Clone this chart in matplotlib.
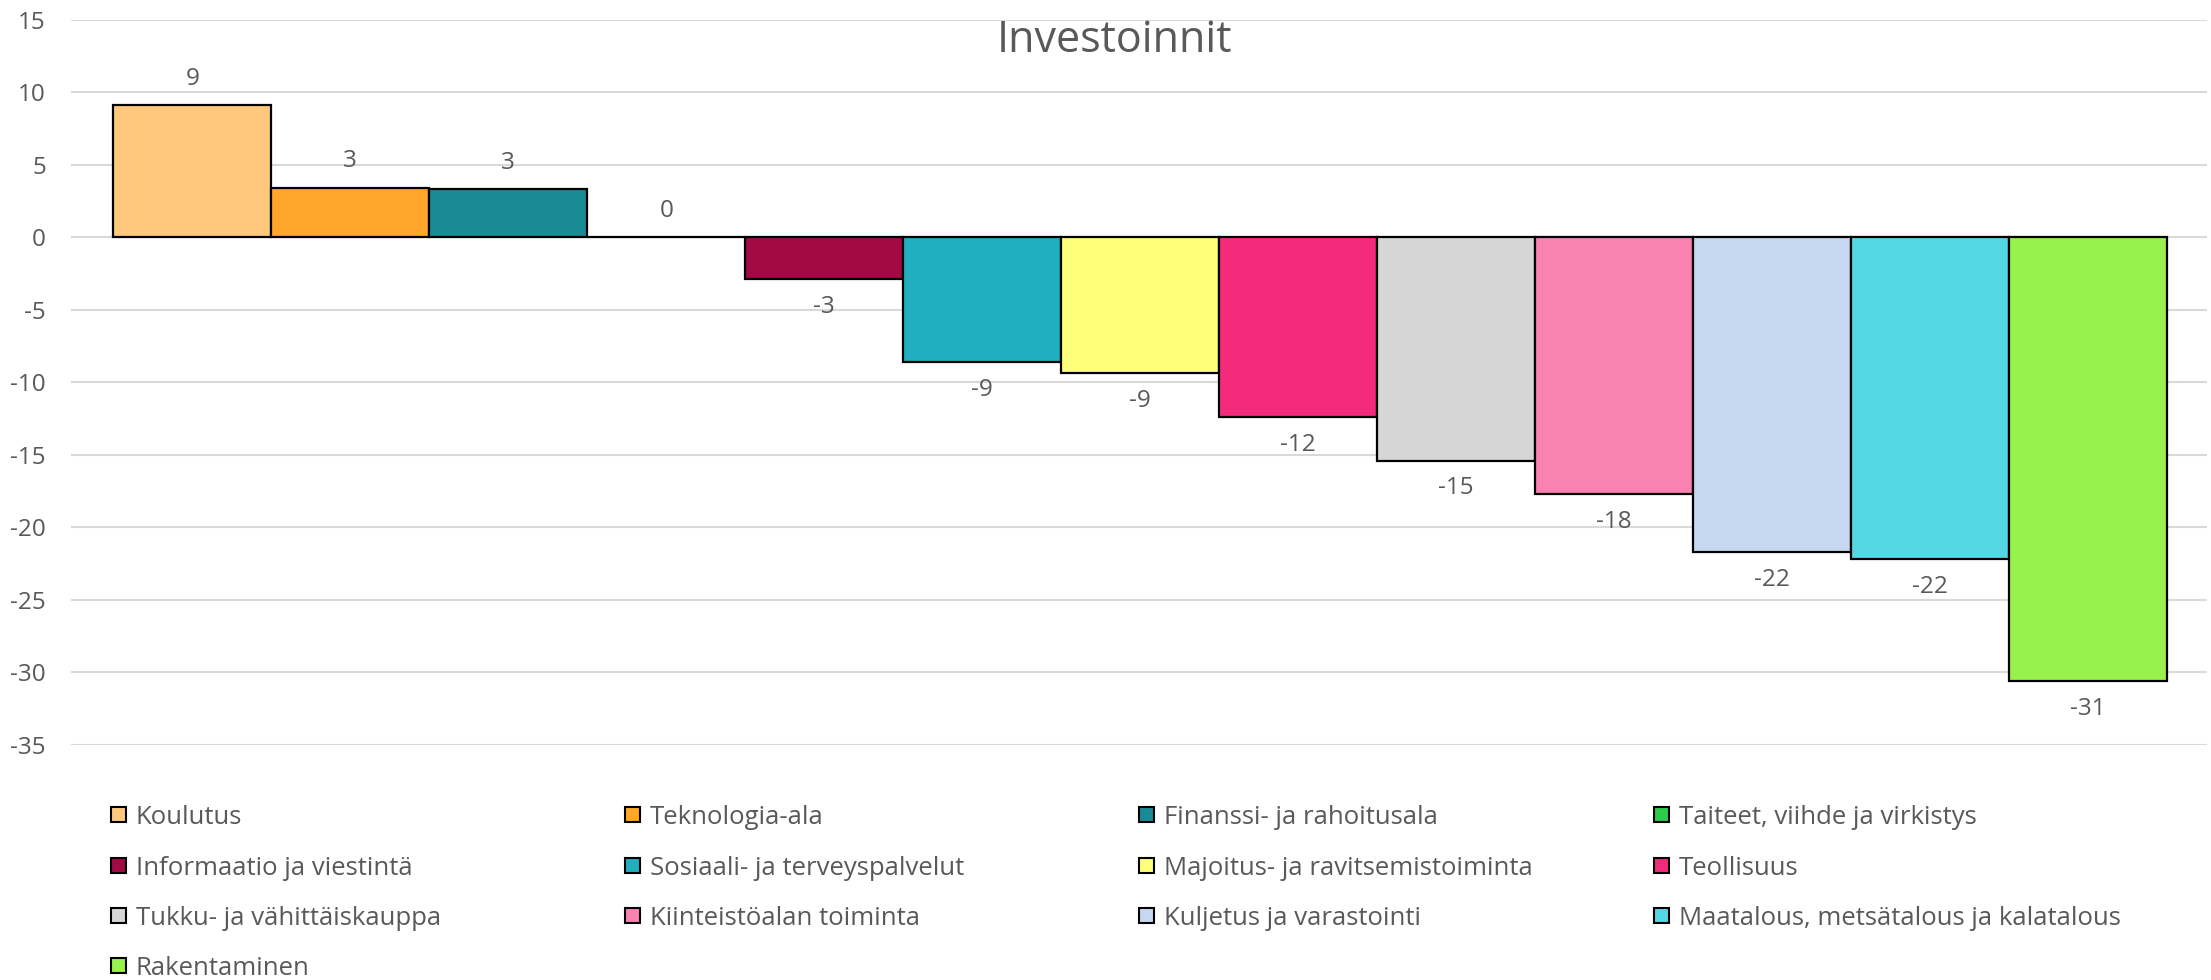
import matplotlib
matplotlib.use('Agg')
from matplotlib import pyplot as plt
from matplotlib.patches import Rectangle

plt.rcParams['font.family'] = ['Open Sans', 'DejaVu Sans']

# data
categories = ['Koulutus', 'Teknologia-ala', 'Finanssi- ja rahoitusala',
              'Taiteet, viihde ja virkistys', 'Informaatio ja viestintä',
              'Sosiaali- ja terveyspalvelut', 'Majoitus- ja ravitsemistoiminta',
              'Teollisuus', 'Tukku- ja vähittäiskauppa', 'Kiinteistöalan toiminta',
              'Kuljetus ja varastointi', 'Maatalous, metsätalous ja kalatalous',
              'Rakentaminen']
values = [9.1, 3.4, 3.3, 0.0, -2.9, -8.6, -9.4, -12.4, -15.4, -17.7, -21.7, -22.2, -30.6]
colors = ['#FFC87C', '#FFA62B', '#1A8A96', '#2DCB4C', '#A10A45', '#20AFBF',
          '#FFFF7A', '#F42B7A', '#D6D6D6', '#F982B3', '#C6D8F0', '#55D6E3',
          '#97F24D']
y_ticks = [15, 10, 5, 0, -5, -10, -15, -20, -25, -30, -35]

text_color = '#595959'
W, H = 2211, 980

fig = plt.figure(figsize=(W / 100, H / 100), dpi=100)
ax = fig.add_axes([0.032, 0.240, 0.966, 0.740])

x = list(range(len(values)))
ax.bar(x, values, width=1.0, color=colors, edgecolor='black', linewidth=1.6, zorder=3)

# data labels outside the bar ends
for xi, v in zip(x, values):
    off = 19 if v >= 0 else -20
    ax.annotate(f'{round(v):d}', (xi, v), xytext=(0, off), textcoords='offset points',
                ha='center', va='center', fontsize=17.5, color=text_color)

ax.set_xlim(-0.5 - 0.27, len(values) - 0.5 + 0.25)
ax.set_ylim(-35, 15)
ax.set_yticks(y_ticks)
ax.set_yticklabels([str(t) for t in y_ticks])
ax.tick_params(axis='y', length=0, labelsize=17.5, labelcolor=text_color, pad=18)
ax.set_xticks([])
for s in ax.spines.values():
    s.set_visible(False)
ax.grid(axis='y', color='#D9D9D9', linewidth=1.5, zorder=0)
ax.set_axisbelow(True)

fig.text(0.504, 0.958, 'Investoinnit', ha='center', va='center', fontsize=31, color=text_color)

# legend, filled row by row in 4 columns
col_x = [111, 625, 1139, 1654]
row_y = [814, 865, 915, 965]
box = 15
for i, (name, c) in enumerate(zip(categories, colors)):
    r, col = divmod(i, 4)
    px, py = col_x[col], row_y[r]
    fig.add_artist(Rectangle((px / W, 1 - (py + box / 2) / H), box / W, box / H,
                             transform=fig.transFigure, facecolor=c,
                             edgecolor='black', linewidth=1.5))
    fig.text((px + 25) / W, 1 - py / H, name, ha='left', va='center_baseline',
             fontsize=18.5, color=text_color)

fig.savefig('out.png', dpi=100)
